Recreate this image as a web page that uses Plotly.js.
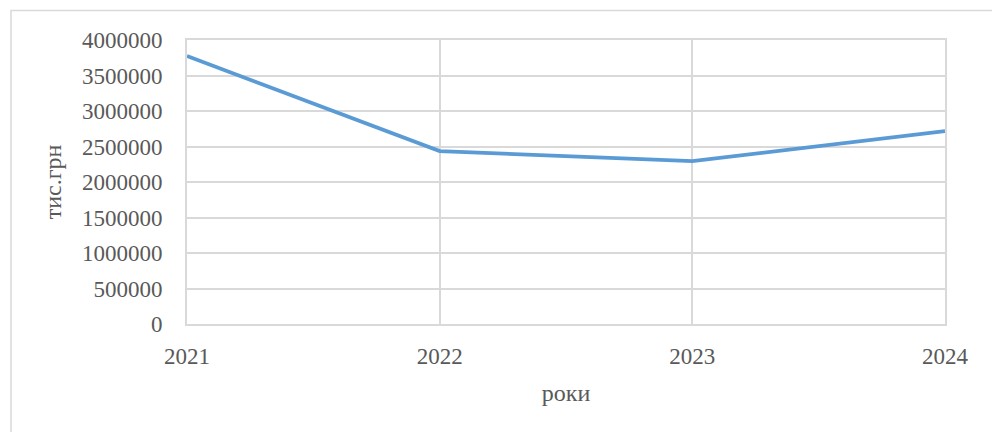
<!DOCTYPE html>
<html>
<head>
<meta charset="utf-8">
<script src="https://cdn.plot.ly/plotly-3.0.1.min.js"></script>
<style>
html,body{margin:0;padding:0;background:#fff;}
#chart{width:992px;height:432px;}
</style>
</head>
<body>
<div id="chart"></div>
<script>
const years = ["2021", "2022", "2023", "2024"];
const values = [3773000, 2435000, 2295000, 2716000];
const yTickVals = [0, 500000, 1000000, 1500000, 2000000, 2500000, 3000000, 3500000, 4000000];
const xTitle = "роки";
const yTitle = "тис.грн";

const font = {family: "Liberation Serif, Times New Roman, serif", size: 23, color: "#595959"};
const gridCol = "#d9d9d9";

const trace = {
  x: years,
  y: values,
  type: "scatter",
  mode: "lines",
  line: {color: "#5b9bd5", width: 3.75},
  hoverinfo: "skip"
};

const layout = {
  width: 992,
  height: 432,
  margin: {l: 187, r: 47, t: 39.5, b: 107.5},
  paper_bgcolor: "#ffffff",
  plot_bgcolor: "#ffffff",
  showlegend: false,
  font: font,
  xaxis: {
    type: "category",
    range: [0, 3],
    showgrid: true,
    gridcolor: gridCol,
    gridwidth: 2,
    zeroline: false,
    showline: true,
    mirror: true,
    linecolor: gridCol,
    linewidth: 2,
    ticks: "outside",
    ticklen: 10,
    tickcolor: "rgba(0,0,0,0)",
    tickfont: font,
    title: {text: xTitle, font: {family: font.family, size: 24, color: "#595959"}, standoff: 17}
  },
  yaxis: {
    range: [0, 4000000],
    tickvals: yTickVals,
    ticktext: yTickVals.map(String),
    showgrid: true,
    gridcolor: gridCol,
    gridwidth: 2,
    zeroline: false,
    showline: true,
    mirror: true,
    linecolor: gridCol,
    linewidth: 2,
    ticks: "outside",
    ticklen: 18,
    tickcolor: "rgba(0,0,0,0)",
    tickfont: font,
    title: {text: yTitle, font: {family: font.family, size: 24, color: "#595959"}, standoff: 14}
  },
  shapes: [{
    type: "rect",
    xref: "paper", yref: "paper",
    x0: (11 - 187) / 758, x1: 1.2,
    y0: -0.6, y1: 1 + (39.5 - 10) / 285,
    line: {color: gridCol, width: 1.5},
    fillcolor: "rgba(0,0,0,0)",
    layer: "below"
  }]
};

Plotly.newPlot("chart", [trace], layout, {displayModeBar: false, staticPlot: true});
</script>
</body>
</html>
